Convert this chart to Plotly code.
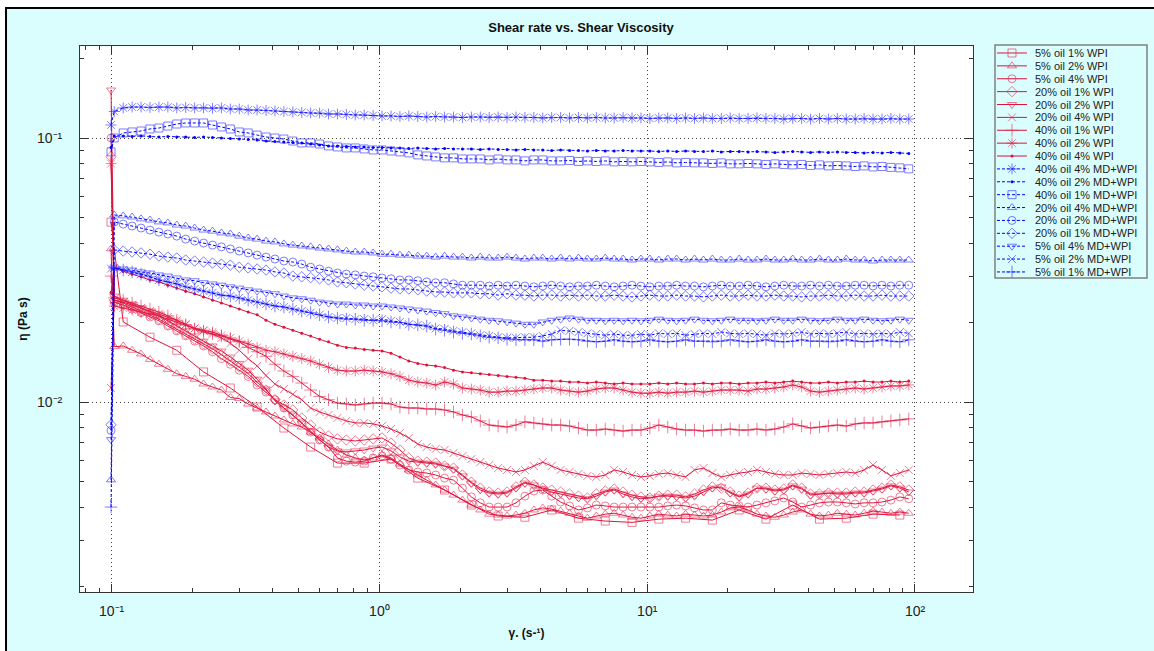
import plotly.graph_objects as go

FONT = "Liberation Sans, Arial, Helvetica, sans-serif"

# ---------------- data ----------------
shear_rate = [0.0995,
    0.1023, 0.1105, 0.1193, 0.1288, 0.1391, 0.1502, 0.1622, 0.1751, 0.1891, 0.2042,
    0.2205, 0.2381, 0.2570, 0.2776, 0.2997, 0.3236, 0.3494, 0.3773, 0.4074, 0.4399,
    0.4750, 0.5129, 0.5538, 0.5980, 0.6457, 0.6972, 0.7528, 0.8128, 0.8777, 0.9477,
    1.023, 1.105, 1.193, 1.288, 1.391, 1.502, 1.622, 1.751, 1.891, 2.042,
    2.205, 2.381, 2.570, 2.776, 2.997, 3.236, 3.494, 3.773, 4.074, 4.399,
    4.750, 5.129, 5.538, 5.980, 6.457, 6.972, 7.528, 8.128, 8.777, 9.477,
    10.23, 11.05, 11.93, 12.88, 13.91, 15.02, 16.22, 17.51, 18.91, 20.42,
    22.05, 23.81, 25.70, 27.76, 29.97, 32.36, 34.94, 37.73, 40.74, 43.99,
    47.50, 51.29, 55.38, 59.80, 64.57, 69.72, 75.28, 81.28, 87.77, 94.77]

eta_5o1w = [0.048,
    None, 0.0201, None, None, 0.0176, None, None, 0.0157, None, None,
    0.0130, None, None, 0.0113, None, None, 0.00957, None, None, 0.00797,
    None, None, 0.00675, None, None, 0.00587, None, None, 0.00587, None,
    None, 0.00608, None, None, 0.00515, None, None, 0.00464, None, None,
    0.00407, None, None, 0.00370, None, None, 0.00366, None, None, 0.00390,
    None, None, 0.00363, None, None, 0.00354, None, None, 0.00350, None,
    None, 0.00360, None, None, 0.00363, None, None, 0.00357, None, None,
    0.00390, None, None, 0.00360, None, None, 0.00407, None, None, 0.00360,
    None, None, 0.00363, None, None, 0.00376, None, None, 0.00373, None]

eta_5o2w = [0.038,
    0.0162, 0.0163, 0.0157, 0.0152, 0.0145, 0.0139, 0.0133, 0.0128, 0.0125, 0.0122,
    0.0117, 0.0114, 0.0111, 0.0104, 0.0103, 0.00982, 0.00949, 0.00917, 0.00885, 0.00855,
    0.00826, 0.00804, 0.00769, 0.00731, 0.00693, 0.00658, 0.0063, 0.00614, 0.00603, 0.00614,
    0.0063, 0.00614, 0.00582, 0.00553, 0.00529, 0.00506, 0.00485, 0.00464, 0.00444, 0.00425,
    0.00407, 0.0039, 0.00376, 0.00373, 0.0037, 0.00373, 0.00379, 0.0039, 0.00397, 0.00393,
    0.00386, 0.00379, 0.0037, 0.00363, 0.0037, 0.00376, 0.00379, 0.00373, 0.00366, 0.00363,
    0.0037, 0.00376, 0.00373, 0.0037, 0.00376, 0.00373, 0.0037, 0.00373, 0.00383, 0.00397,
    0.004, 0.0039, 0.00376, 0.0037, 0.00366, 0.00373, 0.00383, 0.0039, 0.00376, 0.0037,
    0.00373, 0.00379, 0.00376, 0.00373, 0.00379, 0.00386, 0.00383, 0.00379, 0.00383, 0.00379]

eta_5o4w = [0.100,
    0.0239, 0.0233, 0.0225, 0.0218, 0.021, 0.0203, 0.0194, 0.0186, 0.0178, 0.017,
    0.0163, 0.0155, 0.0146, 0.0139, 0.0132, 0.0125, 0.0116, 0.0109, 0.0102, 0.00949,
    0.00893, 0.00833, 0.00769, 0.00718, 0.00675, 0.00614, 0.00597, 0.00592, 0.00597, 0.00614,
    0.00625, 0.00608, 0.00577, 0.00553, 0.00543, 0.00538, 0.00529, 0.00515, 0.00506, 0.00472,
    0.00437, 0.00415, 0.004, 0.004, 0.004, 0.00415, 0.0044, 0.0046, 0.00464, 0.0044,
    0.00418, 0.00404, 0.0039, 0.00397, 0.00407, 0.00404, 0.004, 0.004, 0.004, 0.004,
    0.004, 0.004, 0.00404, 0.00407, 0.00404, 0.00397, 0.0039, 0.0039, 0.00415, 0.00407,
    0.00404, 0.004, 0.00407, 0.00415, 0.00422, 0.00433, 0.00418, 0.004, 0.00407, 0.00415,
    0.00418, 0.00418, 0.00415, 0.00411, 0.00415, 0.00415, 0.00418, 0.00425, 0.00437, 0.0043]

eta_20o1w = [0.085,
    0.0243, 0.0237, 0.0229, 0.0221, 0.0214, 0.0206, 0.0197, 0.0189, 0.0181, 0.0173,
    0.0166, 0.0159, 0.0151, 0.0143, 0.0136, 0.0128, 0.0119, 0.0111, 0.0102, 0.00974,
    0.00933, 0.0087, 0.00818, 0.00769, 0.00744, 0.00725, 0.00718, 0.00712, 0.00718, 0.00725,
    0.00731, 0.00699, 0.00658, 0.00614, 0.00597, 0.00592, 0.00587, 0.00572, 0.00562, 0.00529,
    0.00497, 0.00472, 0.00456, 0.00452, 0.00456, 0.00477, 0.00497, 0.00485, 0.00472, 0.00464,
    0.00456, 0.00448, 0.0044, 0.00433, 0.00448, 0.0046, 0.00468, 0.00456, 0.00444, 0.00437,
    0.00433, 0.0044, 0.00444, 0.00444, 0.00437, 0.00448, 0.00464, 0.00477, 0.00472, 0.00456,
    0.0044, 0.00452, 0.00472, 0.00472, 0.00464, 0.00468, 0.00485, 0.00472, 0.00448, 0.00448,
    0.00452, 0.00452, 0.00452, 0.00456, 0.00456, 0.00464, 0.00472, 0.00485, 0.00477, 0.00464]

eta_20o2w = [0.152,
    0.0252, 0.0243, 0.0235, 0.0227, 0.0219, 0.0212, 0.0203, 0.0194, 0.0186, 0.0178,
    0.017, 0.0163, 0.0156, 0.0148, 0.014, 0.0132, 0.0122, 0.0112, 0.0101, 0.00949,
    0.00893, 0.00833, 0.00776, 0.00718, 0.00675, 0.00653, 0.00647, 0.00653, 0.00658, 0.00669,
    0.00675, 0.00653, 0.00619, 0.00597, 0.00592, 0.00587, 0.00582, 0.00572, 0.00557, 0.00525,
    0.00493, 0.00464, 0.00452, 0.00448, 0.00452, 0.00472, 0.00493, 0.00485, 0.00468, 0.00456,
    0.00448, 0.0044, 0.00433, 0.0043, 0.0044, 0.00456, 0.00464, 0.00448, 0.00437, 0.0043,
    0.00433, 0.0044, 0.0044, 0.00437, 0.00433, 0.0044, 0.00456, 0.00472, 0.00477, 0.00452,
    0.00437, 0.00448, 0.00472, 0.00468, 0.0046, 0.00464, 0.00481, 0.00468, 0.00444, 0.00448,
    0.00452, 0.00448, 0.00448, 0.00452, 0.00452, 0.0046, 0.00468, 0.00481, 0.00472, 0.00456]

eta_20o4w = [0.0113,
    0.0243, 0.0239, 0.0233, 0.0227, 0.0221, 0.0216, 0.021, 0.0204, 0.0197, 0.019,
    0.0186, 0.0181, 0.0175, 0.0167, 0.0157, 0.0146, 0.0137, 0.0126, 0.0117, 0.0112,
    0.0107, 0.0102, 0.00949, 0.00917, 0.00893, 0.0087, 0.00848, 0.00833, 0.00833, 0.00826,
    0.00811, 0.0079, 0.00763, 0.00731, 0.00693, 0.00675, 0.00664, 0.00658, 0.00641, 0.00624,
    0.00608, 0.00592, 0.00577, 0.00562, 0.00553, 0.00543, 0.00553, 0.00572, 0.00592, 0.00572,
    0.00553, 0.00543, 0.00534, 0.00525, 0.0052, 0.00529, 0.00553, 0.00543, 0.00529, 0.0052,
    0.00525, 0.00534, 0.00538, 0.00529, 0.0052, 0.00553, 0.00562, 0.00538, 0.0052, 0.00529,
    0.00538, 0.00543, 0.00553, 0.00543, 0.00534, 0.00529, 0.00529, 0.00538, 0.00534, 0.00529,
    0.00534, 0.00538, 0.00543, 0.00538, 0.00553, 0.00577, 0.00553, 0.00525, 0.00538, 0.00553]

eta_40o1w = [0.030,
    0.0248, 0.0243, 0.0237, 0.0231, 0.0225, 0.0219, 0.0212, 0.0204, 0.0196, 0.0189,
    0.0184, 0.0181, 0.0178, 0.0173, 0.0169, 0.0161, 0.0155, 0.0149, 0.0139, 0.0131,
    0.0125, 0.0118, 0.0111, 0.0105, 0.0102, 0.00991, 0.00983, 0.00974, 0.00983, 0.00991,
    0.00991, 0.00983, 0.00957, 0.00949, 0.00949, 0.00941, 0.00941, 0.00933, 0.00917, 0.00893,
    0.00878, 0.00848, 0.00818, 0.00811, 0.00804, 0.00818, 0.00841, 0.00833, 0.00826, 0.00818,
    0.00818, 0.00811, 0.00797, 0.00783, 0.00783, 0.0079, 0.00783, 0.00776, 0.00783, 0.00783,
    0.00797, 0.00818, 0.00804, 0.0079, 0.00783, 0.00783, 0.00776, 0.00783, 0.00783, 0.0079,
    0.00783, 0.00783, 0.0079, 0.00783, 0.0079, 0.00804, 0.00826, 0.00811, 0.00797, 0.00804,
    0.00811, 0.00818, 0.00811, 0.00826, 0.00833, 0.00833, 0.00841, 0.00848, 0.00855, 0.00863]

eta_40o2w = [0.080,
    0.0231, 0.0227, 0.0223, 0.0219, 0.0216, 0.0212, 0.0206, 0.0201, 0.0196, 0.019,
    0.0187, 0.0184, 0.0179, 0.0175, 0.017, 0.0166, 0.0161, 0.0157, 0.0155, 0.0152,
    0.0149, 0.0146, 0.0143, 0.0139, 0.0135, 0.0132, 0.0131, 0.0131, 0.0132, 0.0131,
    0.013, 0.0128, 0.0125, 0.0121, 0.0119, 0.0118, 0.0116, 0.0119, 0.0117, 0.0113,
    0.0112, 0.0111, 0.0109, 0.0109, 0.011, 0.011, 0.0111, 0.0112, 0.0113, 0.0113,
    0.0111, 0.011, 0.0109, 0.011, 0.0112, 0.0113, 0.0113, 0.0111, 0.0109, 0.0108,
    0.0108, 0.0109, 0.0108, 0.0109, 0.0109, 0.011, 0.0109, 0.011, 0.0111, 0.0111,
    0.0111, 0.011, 0.0112, 0.0112, 0.0113, 0.0114, 0.0116, 0.0114, 0.011, 0.0109,
    0.011, 0.0111, 0.0112, 0.0113, 0.0112, 0.0113, 0.0114, 0.0115, 0.0115, 0.0116]

eta_40o4w = [0.026,
    0.0322, 0.0313, 0.0305, 0.0298, 0.029, 0.0285, 0.0277, 0.027, 0.0263, 0.0257,
    0.025, 0.0243, 0.0237, 0.0231, 0.0225, 0.0219, 0.0214, 0.0204, 0.0197, 0.0192,
    0.0187, 0.0182, 0.0178, 0.0173, 0.0169, 0.0164, 0.0161, 0.016, 0.0158, 0.0157,
    0.0156, 0.0153, 0.0148, 0.0143, 0.014, 0.0138, 0.0137, 0.0135, 0.0132, 0.013,
    0.0129, 0.0128, 0.0127, 0.0126, 0.0125, 0.0124, 0.0123, 0.0121, 0.0121, 0.012,
    0.012, 0.0119, 0.0119, 0.0118, 0.0119, 0.0118, 0.0117, 0.0118, 0.0117, 0.0117,
    0.0117, 0.0118, 0.0117, 0.0118, 0.0117, 0.0117, 0.0118, 0.0117, 0.0118, 0.0118,
    0.0117, 0.0118, 0.0118, 0.0119, 0.0118, 0.0119, 0.012, 0.0119, 0.0118, 0.0118,
    0.0119, 0.0118, 0.0119, 0.0119, 0.012, 0.0119, 0.0119, 0.012, 0.0119, 0.012]

eta_40o4m = [0.112,
    0.126, 0.130, 0.131, 0.131, 0.1305, 0.131, 0.131, 0.130, 0.1305, 0.130,
    0.130, 0.1295, 0.130, 0.1288, 0.1288, 0.1277, 0.1277, 0.1272, 0.1266, 0.126,
    0.1255, 0.125, 0.1244, 0.1244, 0.1233, 0.1233, 0.1228, 0.1222, 0.1222, 0.1217,
    0.1212, 0.1212, 0.1206, 0.1212, 0.1206, 0.1201, 0.1206, 0.1201, 0.1201, 0.1196,
    0.1201, 0.1201, 0.1196, 0.1201, 0.1196, 0.1201, 0.1196, 0.1196, 0.1191, 0.1196,
    0.1196, 0.1191, 0.1196, 0.1191, 0.1196, 0.1191, 0.1191, 0.1196, 0.1191, 0.1191,
    0.1186, 0.1191, 0.1191, 0.1186, 0.1191, 0.1186, 0.1191, 0.1186, 0.1186, 0.1191,
    0.1186, 0.1186, 0.1191, 0.1186, 0.1186, 0.118, 0.1186, 0.1186, 0.118, 0.1186,
    0.118, 0.1186, 0.118, 0.118, 0.1186, 0.118, 0.118, 0.1186, 0.118, 0.118]

eta_40o2m = [0.092,
    0.1018, 0.1018, 0.1014, 0.1018, 0.1014, 0.1009, 0.1014, 0.1009, 0.1009, 0.1005,
    0.1009, 0.1005, 0.100, 0.0996, 0.0991, 0.0987, 0.0983, 0.0974, 0.097, 0.0966,
    0.0962, 0.0958, 0.0949, 0.0941, 0.0933, 0.0933, 0.0929, 0.0925, 0.0925, 0.0921,
    0.0921, 0.0917, 0.0917, 0.0913, 0.0917, 0.0913, 0.0909, 0.0913, 0.0909, 0.0909,
    0.0909, 0.0905, 0.0909, 0.0905, 0.0905, 0.0901, 0.0905, 0.0901, 0.0901, 0.0897,
    0.0901, 0.0897, 0.0897, 0.0893, 0.0897, 0.0893, 0.0893, 0.0897, 0.0893, 0.0893,
    0.0893, 0.0889, 0.0893, 0.0889, 0.0893, 0.0889, 0.0889, 0.0893, 0.0886, 0.0889,
    0.0889, 0.0886, 0.0889, 0.0886, 0.0882, 0.0886, 0.0889, 0.0886, 0.0882, 0.0886,
    0.0882, 0.0886, 0.0882, 0.0882, 0.0878, 0.0882, 0.0878, 0.0882, 0.0878, 0.0874]

eta_40o1m = [0.0886,
    0.100, 0.1045, 0.1054, 0.1063, 0.1082, 0.1091, 0.111, 0.113, 0.114, 0.114,
    0.114, 0.112, 0.1101, 0.1082, 0.1054, 0.1045, 0.1026, 0.1009, 0.100, 0.0991,
    0.0974, 0.0958, 0.0958, 0.0949, 0.0933, 0.0925, 0.0917, 0.0917, 0.0909, 0.0901,
    0.0901, 0.0893, 0.0886, 0.0878, 0.0863, 0.0855, 0.0848, 0.0841, 0.0841, 0.0833,
    0.0833, 0.0833, 0.0826, 0.0833, 0.0826, 0.0826, 0.0819, 0.0826, 0.0826, 0.0819,
    0.0819, 0.0822, 0.0815, 0.0819, 0.0815, 0.0819, 0.0812, 0.0815, 0.0812, 0.0815,
    0.0812, 0.0808, 0.0812, 0.0805, 0.0808, 0.0805, 0.0805, 0.0801, 0.0805, 0.0798,
    0.0798, 0.0801, 0.0798, 0.0794, 0.0798, 0.0794, 0.0791, 0.0794, 0.0787, 0.0791,
    0.0784, 0.0787, 0.0784, 0.078, 0.0784, 0.0777, 0.078, 0.0774, 0.0771, 0.0764]

eta_20o4m = [0.00507,
    0.0511, 0.0507, 0.0502, 0.0494, 0.0489, 0.0481, 0.0477, 0.0468, 0.0464, 0.0456,
    0.0448, 0.0444, 0.0437, 0.0433, 0.0425, 0.0418, 0.0414, 0.0407, 0.0404, 0.0397,
    0.0393, 0.039, 0.0387, 0.0383, 0.038, 0.0377, 0.0373, 0.037, 0.037, 0.0367,
    0.0363, 0.0363, 0.036, 0.036, 0.0357, 0.0357, 0.0354, 0.0357, 0.0354, 0.0354,
    0.0351, 0.0354, 0.0351, 0.0351, 0.0354, 0.0351, 0.0348, 0.0351, 0.0351, 0.0348,
    0.0351, 0.0348, 0.0351, 0.0348, 0.0348, 0.0351, 0.0348, 0.0348, 0.0345, 0.0348,
    0.0348, 0.0345, 0.0348, 0.0348, 0.0345, 0.0348, 0.0345, 0.0348, 0.0345, 0.0345,
    0.0348, 0.0345, 0.0345, 0.0348, 0.0345, 0.0345, 0.0348, 0.0345, 0.0345, 0.0348,
    0.0345, 0.0345, 0.0348, 0.0345, 0.0345, 0.0342, 0.0345, 0.0345, 0.0345, 0.0345]

eta_20o2m = [0.0078,
    0.0481, 0.0472, 0.0464, 0.0456, 0.0448, 0.044, 0.0433, 0.0425, 0.0414, 0.0407,
    0.040, 0.0393, 0.0387, 0.038, 0.0373, 0.0367, 0.036, 0.0354, 0.0348, 0.0342,
    0.0339, 0.0333, 0.0324, 0.0319, 0.0313, 0.0308, 0.0305, 0.0303, 0.030, 0.0298,
    0.0295, 0.0293, 0.029, 0.029, 0.0288, 0.0285, 0.0283, 0.0283, 0.028, 0.0277,
    0.0277, 0.0277, 0.0275, 0.0277, 0.0275, 0.0277, 0.0275, 0.0273, 0.0275, 0.0277,
    0.0275, 0.0273, 0.0275, 0.0275, 0.0277, 0.0275, 0.0273, 0.0275, 0.0277, 0.0275,
    0.0273, 0.0275, 0.0275, 0.0277, 0.0275, 0.0275, 0.0273, 0.0275, 0.0277, 0.0275,
    0.0275, 0.0277, 0.0275, 0.0273, 0.0275, 0.0277, 0.0275, 0.0275, 0.0277, 0.0275,
    0.0277, 0.0275, 0.0275, 0.0277, 0.0277, 0.0275, 0.0277, 0.0275, 0.0277, 0.0277]

eta_20o1m = [0.0082,
    0.0377, 0.0373, 0.037, 0.0367, 0.0363, 0.0357, 0.0354, 0.0351, 0.0345, 0.0342,
    0.0339, 0.0336, 0.0333, 0.033, 0.0324, 0.0322, 0.0319, 0.0316, 0.0311, 0.0308,
    0.030, 0.0298, 0.0296, 0.0293, 0.029, 0.0285, 0.0283, 0.028, 0.0277, 0.0275,
    0.0273, 0.027, 0.0268, 0.0268, 0.0266, 0.0263, 0.0261, 0.0261, 0.0259, 0.0259,
    0.0259, 0.0257, 0.0257, 0.0254, 0.0257, 0.0254, 0.0254, 0.0252, 0.0254, 0.0254,
    0.0252, 0.0254, 0.0252, 0.0254, 0.0252, 0.0252, 0.0254, 0.0252, 0.025, 0.0252,
    0.0254, 0.0252, 0.0252, 0.0254, 0.0252, 0.0252, 0.025, 0.0252, 0.0254, 0.0252,
    0.0252, 0.0254, 0.0252, 0.0252, 0.0254, 0.0252, 0.0252, 0.025, 0.0252, 0.0252,
    0.0254, 0.0252, 0.0252, 0.0254, 0.0252, 0.0252, 0.0254, 0.0252, 0.0252, 0.0252]

eta_5o4m = [0.0072,
    0.0322, 0.0319, 0.0316, 0.0311, 0.0308, 0.0303, 0.030, 0.0295, 0.029, 0.0288,
    0.0283, 0.028, 0.0277, 0.0273, 0.027, 0.0266, 0.0263, 0.0259, 0.0257, 0.0252,
    0.0248, 0.0246, 0.0243, 0.0239, 0.0237, 0.0235, 0.0235, 0.0233, 0.0233, 0.0231,
    0.0231, 0.0229, 0.0227, 0.0225, 0.0223, 0.0221, 0.0218, 0.0216, 0.0212, 0.021,
    0.0208, 0.0206, 0.0204, 0.0203, 0.0201, 0.0199, 0.0197, 0.0197, 0.0201, 0.0204,
    0.0206, 0.0208, 0.0206, 0.0204, 0.0204, 0.0203, 0.0204, 0.0203, 0.0204, 0.0203,
    0.0204, 0.0206, 0.0204, 0.0203, 0.0204, 0.0206, 0.0204, 0.0203, 0.0204, 0.0206,
    0.0204, 0.0204, 0.0203, 0.0204, 0.0206, 0.0204, 0.0204, 0.0206, 0.0204, 0.0203,
    0.0204, 0.0206, 0.0204, 0.0204, 0.0206, 0.0204, 0.0203, 0.0204, 0.0206, 0.0204]

eta_5o2m = [0.032,
    0.0322, 0.0316, 0.0311, 0.0305, 0.0298, 0.029, 0.0285, 0.028, 0.0273, 0.0268,
    0.0263, 0.0259, 0.0254, 0.0252, 0.0248, 0.0243, 0.0239, 0.0235, 0.0231, 0.0229,
    0.0225, 0.0221, 0.0218, 0.0214, 0.021, 0.0208, 0.0208, 0.0206, 0.0206, 0.0204,
    0.0206, 0.0203, 0.0201, 0.0197, 0.0196, 0.0194, 0.019, 0.0189, 0.0186, 0.0184,
    0.0182, 0.0179, 0.0178, 0.0176, 0.0175, 0.0175, 0.0176, 0.0176, 0.0178, 0.0181,
    0.0187, 0.0186, 0.0184, 0.0182, 0.0181, 0.0179, 0.0181, 0.0179, 0.0179, 0.0181,
    0.0179, 0.0182, 0.0181, 0.0182, 0.0179, 0.0181, 0.0182, 0.0181, 0.0184, 0.0182,
    0.0181, 0.0182, 0.0181, 0.0179, 0.0182, 0.0181, 0.0182, 0.0184, 0.0181, 0.0182,
    0.0181, 0.0182, 0.0184, 0.0181, 0.0182, 0.0181, 0.0182, 0.0181, 0.0184, 0.0182]

eta_5o1m = [0.0040,
    0.0322, 0.0316, 0.0311, 0.0305, 0.0298, 0.029, 0.0285, 0.028, 0.0273, 0.0268,
    0.0263, 0.0259, 0.0254, 0.0252, 0.0248, 0.0243, 0.0239, 0.0235, 0.0231, 0.0229,
    0.0225, 0.0221, 0.0218, 0.0214, 0.021, 0.0208, 0.0206, 0.0206, 0.0204, 0.0204,
    0.0203, 0.0201, 0.020, 0.0197, 0.0196, 0.0194, 0.0189, 0.0187, 0.0184, 0.0182,
    0.0181, 0.0178, 0.0176, 0.0175, 0.0173, 0.0172, 0.0172, 0.0172, 0.017, 0.0172,
    0.0173, 0.0173, 0.0172, 0.017, 0.0169, 0.017, 0.0172, 0.017, 0.0169, 0.017,
    0.0172, 0.017, 0.0169, 0.017, 0.0172, 0.017, 0.017, 0.0169, 0.017, 0.0172,
    0.017, 0.0169, 0.017, 0.0172, 0.017, 0.0169, 0.017, 0.0172, 0.017, 0.017,
    0.0169, 0.017, 0.0172, 0.017, 0.0169, 0.017, 0.0172, 0.017, 0.0169, 0.0172]

series_names = [
    "5% oil 1% WPI", "5% oil 2% WPI", "5% oil 4% WPI",
    "20% oil 1% WPI", "20% oil 2% WPI", "20% oil 4% WPI",
    "40% oil 1% WPI", "40% oil 2% WPI", "40% oil 4% WPI",
    "40% oil 4% MD+WPI", "40% oil 2% MD+WPI", "40% oil 1% MD+WPI",
    "20% oil 4% MD+WPI", "20% oil 2% MD+WPI", "20% oil 1% MD+WPI",
    "5% oil 4% MD+WPI", "5% oil 2% MD+WPI", "5% oil 1% MD+WPI",
]
series_values = [
    eta_5o1w, eta_5o2w, eta_5o4w, eta_20o1w, eta_20o2w, eta_20o4w,
    eta_40o1w, eta_40o2w, eta_40o4w, eta_40o4m, eta_40o2m, eta_40o1m,
    eta_20o4m, eta_20o2m, eta_20o1m, eta_5o4m, eta_5o2m, eta_5o1m,
]

x_tick_values = [0.1, 1, 10, 100]
x_tick_labels = ["10⁻¹", "10⁰", "10¹", "10²"]
y_tick_values = [0.01, 0.1]
y_tick_labels = ["10⁻²", "10⁻¹"]

# ---------------- styles ----------------
RED, RED_MK = "rgb(220,20,60)", "rgba(228,40,80,0.6)"
BLUE, BLUE_MK = "rgb(0,0,255)", "rgba(40,40,255,0.6)"
symbols = [
    ("square-open", 8), ("triangle-up-open", 8), ("circle-open", 8),
    ("diamond-open", 8), ("triangle-down-open", 8), ("x-thin-open", 8),
    ("cross-thin-open", 9), ("asterisk-open", 9), ("circle", 3),
    ("asterisk-open", 9), ("circle", 3), ("square-open", 8),
    ("triangle-up-open", 8), ("circle-open", 8), ("diamond-open", 8),
    ("triangle-down-open", 8), ("x-thin-open", 8), ("cross-thin-open", 9),
]


def style(i):
    sym, size = symbols[i]
    red = i < 9
    lc = RED if red else BLUE
    mc = RED_MK if red else BLUE_MK
    if sym == "circle":
        mc = lc
    line = dict(color=lc, width=1, dash="solid" if red else "3px,2px")
    marker = dict(symbol=sym, size=size, color=mc,
                  line=dict(color=mc, width=0 if sym == "circle" else 1))
    return line, marker


fig = go.Figure()

for i, (name, vals) in enumerate(zip(series_names, series_values)):
    line, marker = style(i)
    fig.add_trace(go.Scatter(x=shear_rate, y=vals, name=name, mode="lines+markers",
                             line=line, marker=marker, connectgaps=True,
                             showlegend=False))

# ---- compact legend drawn on a helper axis pair ----
for i, name in enumerate(series_names):
    line, marker = style(i)
    fig.add_trace(go.Scatter(x=[2, 32], y=[i, i], mode="lines", line=line,
                             xaxis="x2", yaxis="y2", showlegend=False, hoverinfo="skip"))
    fig.add_trace(go.Scatter(x=[17], y=[i], mode="markers", marker=marker,
                             xaxis="x2", yaxis="y2", showlegend=False, hoverinfo="skip"))
    fig.add_annotation(x=38, y=i, xref="x2", yref="y2", text=name, showarrow=False,
                       xanchor="left", yanchor="middle",
                       font=dict(family=FONT, size=11, color="#222"))

x_minor = [0.08, 0.09] + [d * m for d in (0.1, 1, 10) for m in range(2, 10)]
y_minor = [d * m for d in (0.001, 0.01) for m in range(2, 10)] + [0.2]

axis_common = dict(
    type="log", showline=True, linecolor="#333", linewidth=1, mirror="ticks",
    ticks="inside", ticklen=8, tickcolor="#333", tickwidth=1,
    showgrid=True, gridcolor="#444", gridwidth=1, griddash="1px,3px",
    zeroline=False, tickmode="array",
    tickfont=dict(family=FONT, size=14, color="#222"),
)

fig.update_layout(
    width=1154, height=651,
    margin=dict(l=80, r=5, t=44, b=59),
    paper_bgcolor="white", plot_bgcolor="white",
    font=dict(family=FONT, color="#222"),
    showlegend=False,
    title=dict(text="Shear rate vs. Shear Viscosity", x=581 / 1154, xanchor="center",
               y=1 - 27 / 651, yanchor="middle", xref="container", yref="container",
               font=dict(family=FONT, size=13, color="#111", weight="bold")),
    xaxis=dict(axis_common, domain=[0, 0.83536], range=[-1.118, 2.2166],
               tickvals=x_tick_values, ticktext=x_tick_labels,
               minor=dict(tickmode="array", tickvals=x_minor, ticks="inside", ticklen=4,
                          tickcolor="#333", showgrid=False),
               ticklabelstandoff=6,
               title=dict(text="γ. (s-¹)", standoff=10,
                          font=dict(family=FONT, size=12, color="#111", weight="bold"))),
    yaxis=dict(axis_common, domain=[0, 0.99635], range=[-2.7197, -0.6515],
               tickvals=y_tick_values, ticktext=y_tick_labels,
               minor=dict(tickmode="array", tickvals=y_minor, ticks="inside", ticklen=4,
                          tickcolor="#333", showgrid=False),
               ticklabelstandoff=14,
               title=dict(text="η (Pa s)", standoff=6,
                          font=dict(family=FONT, size=12, color="#111", weight="bold"))),
    xaxis2=dict(domain=[0.85594, 0.99813], range=[0, 152], anchor="y2",
                visible=False, fixedrange=True),
    yaxis2=dict(domain=[0.57299, 0.99818], range=[17.47, -0.62], anchor="x2",
                visible=False, fixedrange=True),
    shapes=[
        dict(type="rect", xref="paper", yref="paper", x0=-0.0692, x1=1.03,
             y0=-0.16, y1=1.0657, fillcolor="#dafdfd",
             line=dict(color="black", width=2), layer="below"),
        dict(type="rect", xref="paper", yref="paper", x0=0, x1=0.83536,
             y0=0, y1=0.99635, fillcolor="white", line=dict(width=0), layer="below"),
        dict(type="rect", xref="x2 domain", yref="y2 domain", x0=0, x1=1, y0=0, y1=1,
             line=dict(color="#808080", width=1.5), fillcolor="rgba(0,0,0,0)"),
    ],
)

fig.write_html("out.html", config={"displayModeBar": False},
               post_script="document.body.style.margin='0';document.body.style.overflow='hidden';")
